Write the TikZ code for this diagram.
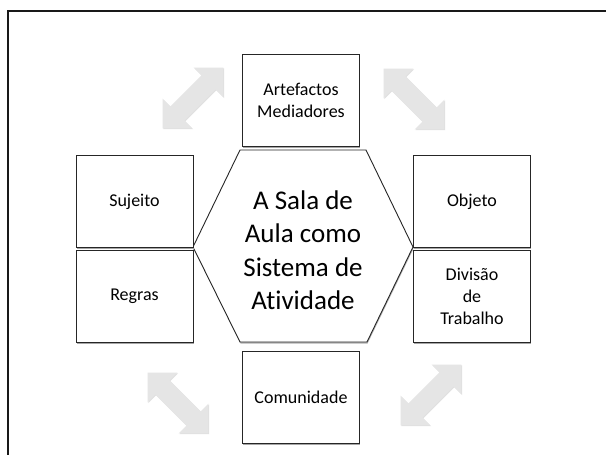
\documentclass[tikz,border=0pt]{standalone}
\usepackage{fontspec}
\setmainfont[Ligatures={NoCommon}]{Carlito}
\usetikzlibrary{shadows}
\definecolor{boxline}{rgb}{.15,.15,.15}
\definecolor{arrowgray}{rgb}{.9,.9,.9}

\begin{document}
\begin{tikzpicture}[x=1pt, y=-1pt,
  campo/.style={draw=boxline, line width=1pt, fill=white, minimum width=117pt,
    minimum height=92pt, align=center, font=\fontsize{18}{22}\selectfont,
    drop shadow={shadow xshift=.6pt, shadow yshift=-1.8pt, fill=black!35, opacity=1}},
  seta/.pic={\fill [arrowgray, drop shadow={shadow xshift=.8pt, shadow yshift=-.8pt, fill=black!12, opacity=1}]
    (-43,0) -- (-22,-21) -- (-22,-10) -- (22,-10) -- (22,-21) -- (43,0)
    -- (22,21) -- (22,10) -- (-22,10) -- (-22,21) -- cycle;}]
% \draw [help lines,color=green] (0,0) grid[step=50] (606,455);
\useasboundingbox (0,0) rectangle (606,455);
\clip (0,0) rectangle (606,455);
\fill [white] (0,0) rectangle (606,455);
\draw [line width=2.4pt, black!90] (8,11) rectangle (660,520);
%%%%%%%%%
\pic [rotate=45] at (193,98) {seta};
\pic [rotate=-45] at (414,99) {seta};
\pic [rotate=-45] at (178,403) {seta};
\pic [rotate=45] at (431,395) {seta};
%%%%%%%%%
\coordinate (H1) at (193,247);
\coordinate (H2) at (240,150);
\coordinate (H3) at (366,150);
\coordinate (H4) at (413,247);
\coordinate (H5) at (367,342);
\coordinate (H6) at (240,342);
\draw [boxline, line width=.9pt, fill=white,
  drop shadow={shadow xshift=.6pt, shadow yshift=-1.5pt, fill=black!30, opacity=1}]
  (H1) -- (H2) -- (H3) -- (H4) -- (H5) -- (H6) -- cycle;
\node [align=center, font=\fontsize{27}{33.5}\selectfont] (sistema) at (303,250)
  {A Sala de\\Aula como\\Sistema de\\Atividade};
%%%%%%%%%
\node [campo] (artefactos) at (301,100.5) {Artefactos\\Mediadores};
\node [campo] (sujeito) at (134.5,201.5) {Sujeito};
\node [campo] (regras) at (134.5,296.5) {Regras};
\node [campo] (objeto) at (472,201.5) {Objeto};
\node [campo] (divisao) at (472,296.5) {Divisão\\de\\Trabalho};
\node [campo] (comunidade) at (301,397) {Comunidade};
\end{tikzpicture}
\end{document}
